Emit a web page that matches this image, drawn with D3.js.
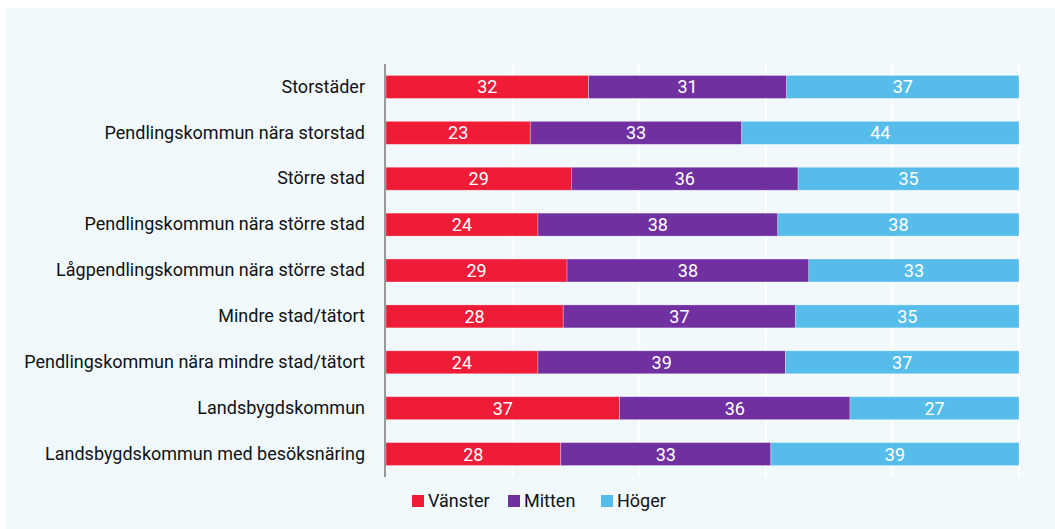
<!DOCTYPE html>
<html>
<head>
<meta charset="utf-8">
<script src="https://cdn.jsdelivr.net/npm/d3@7"></script>
<style>
  body { margin: 0; background: #fff; }
  svg { display: block; }
  text { font-family: Roboto, "Noto Sans", sans-serif; }
</style>
</head>
<body>
<svg id="myGraph" width="1055" height="529"></svg>
<script>
// data (shares in percent; labels are rounded)
var categories = ["Storstäder", "Pendlingskommun nära storstad", "Större stad",
  "Pendlingskommun nära större stad", "Lågpendlingskommun nära större stad",
  "Mindre stad/tätort", "Pendlingskommun nära mindre stad/tätort",
  "Landsbygdskommun", "Landsbygdskommun med besöksnäring"];
var seriesNames = ["Vänster", "Mitten", "Höger"];
var vanster = [32.0, 22.8, 29.3, 24.0, 28.6, 28.0, 24.0, 36.9, 27.6];
var mitten  = [31.3, 33.4, 35.8, 37.9, 38.2, 36.7, 39.1, 36.4, 33.2];
var hoger   = [36.7, 43.8, 34.9, 38.1, 33.2, 35.3, 36.9, 26.7, 39.2];
var xTicks = [0, 20, 40, 60, 80, 100];
var colors = ["#ee1c37", "#7030a0", "#56bdea"];

var svg = d3.select("#myGraph");

// panel background
svg.append("rect").attr("x", 6).attr("y", 8).attr("width", 1049).attr("height", 521)
  .attr("fill", "#f2f9fd");

var plotLeft = 386, plotRight = 1019, plotTop = 64, plotBottom = 477;

var x = d3.scaleLinear().domain([0, 100]).range([plotLeft, plotRight]);
var y = d3.scaleBand().domain(categories).range([plotTop, plotBottom]).paddingInner(0.5).paddingOuter(0.25);

// gridlines
svg.selectAll("line.grid").data(xTicks.slice(1)).enter().append("line")
  .attr("class", "grid")
  .attr("x1", function(d){ return x(d); }).attr("x2", function(d){ return x(d); })
  .attr("y1", plotTop).attr("y2", plotBottom)
  .attr("stroke", "#fff").attr("stroke-width", 2);

var table = categories.map(function(c, i){
  return { cat: c, "Vänster": vanster[i], "Mitten": mitten[i], "Höger": hoger[i] };
});
var stacked = d3.stack().keys(seriesNames)(table);

var groups = svg.selectAll("g.series").data(stacked).enter().append("g")
  .attr("class", "series")
  .attr("fill", function(d, i){ return colors[i]; });

groups.selectAll("rect").data(function(d){ return d; }).enter().append("rect")
  .attr("x", function(d){ return x(d[0]); })
  .attr("y", function(d){ return y(d.data.cat); })
  .attr("width", function(d){ return x(d[1]) - x(d[0]); })
  .attr("height", y.bandwidth())
  .attr("stroke", "#fff").attr("stroke-opacity", 0.35).attr("stroke-width", 0.8);

groups.selectAll("text").data(function(d){ return d; }).enter().append("text")
  .attr("x", function(d){ return (x(d[0]) + x(d[1])) / 2; })
  .attr("y", function(d){ return y(d.data.cat) + y.bandwidth() / 2; })
  .attr("dy", "0.36em")
  .attr("text-anchor", "middle")
  .attr("fill", "#fff")
  .attr("font-size", 18)
  .text(function(d){ return Math.round(d[1] - d[0]); });

// y axis
var yAxis = svg.append("g").attr("transform", "translate(" + plotLeft + ",0)")
  .call(d3.axisLeft(y).tickSize(0).tickPadding(21));
yAxis.select(".domain").remove();
yAxis.selectAll("text").attr("font-size", 18).attr("fill", "#111")
  .style("font-family", "Roboto, sans-serif");
svg.append("line").attr("x1", plotLeft - 1).attr("x2", plotLeft - 1).attr("y1", plotTop).attr("y2", plotBottom)
  .attr("stroke", "#999").attr("stroke-width", 2);

// legend
var legendX = [412, 508, 601];
var legend = svg.selectAll("g.legend").data(seriesNames).enter().append("g")
  .attr("class", "legend")
  .attr("transform", function(d, i){ return "translate(" + legendX[i] + ",495)"; });
legend.append("rect").attr("width", 12).attr("height", 12)
  .attr("fill", function(d, i){ return colors[i]; });
legend.append("text").attr("x", 16).attr("y", 6).attr("dy", "0.36em")
  .attr("font-size", 18).attr("fill", "#111")
  .text(function(d){ return d; });
</script>
</body>
</html>
